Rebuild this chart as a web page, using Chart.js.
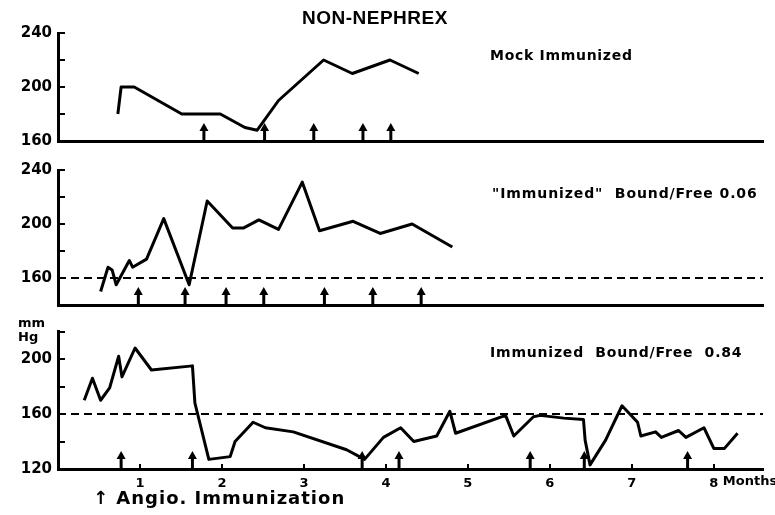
<!DOCTYPE html><html lang="en">
<head>
<meta charset="utf-8"/>
<title>Non-Nephrex</title>
<script src="https://cdn.jsdelivr.net/npm/chart.js"></script>
<style>
  body{margin:0;background:#fff;width:775px;height:515px;overflow:hidden;position:relative}
  canvas{position:absolute;left:0}
  .t{position:absolute;transform:translateY(-50%);font-family:"DejaVu Sans",sans-serif;font-weight:bold;color:#000;white-space:pre}
</style>
</head>
<body>
<canvas id="c1" width="775" height="160" style="top:0"></canvas>
<canvas id="c2" width="775" height="160" style="top:160px"></canvas>
<canvas id="c3" width="775" height="190" style="top:320px"></canvas>

<div class="t" style="left:302px;top:18px;font-family:'Liberation Sans',Arial,sans-serif;font-size:19px;letter-spacing:0.5px">NON-NEPHREX</div>
<div class="t" style="left:490px;top:55px;font-size:14px;letter-spacing:0.7px">Mock Immunized</div>
<div class="t" style="left:492px;top:193px;font-size:14px;letter-spacing:0.9px">"Immunized"  Bound/Free 0.06</div>
<div class="t" style="left:490px;top:352px;font-size:14px;letter-spacing:0.8px">Immunized  Bound/Free  0.84</div>
<div class="t" style="left:18px;top:322px;font-size:13px">mm</div>
<div class="t" style="left:18px;top:336px;font-size:13px">Hg</div>
<div class="t" style="left:93px;top:497px;font-size:18px;letter-spacing:1px">↑ Angio. Immunization</div>

<script>
// ---- data (months, mm Hg) ----
const refX = [0, 8.6];          // extent of the 160 mm Hg reference line
const refY = 160;

const mockX = [0.73,0.77,0.93,1.51,1.98,2.28,2.43,2.69,3.24,3.59,4.05,4.40];
const mockY = [180,200,200,180,180,170,168,190,220,210,220,210];
const mockArrows = [1.78,2.52,3.12,3.72,4.06];

const lowX = [0.52,0.61,0.66,0.71,0.87,0.91,1.08,1.29,1.60,1.82,2.13,2.26,2.45,2.69,2.98,3.19,3.60,3.93,4.32,4.81];
const lowY = [150,168,166,155,173,168,174,204,155,217,197,197,203,196,231,195,202,193,200,183];
const lowArrows = [0.98,1.55,2.05,2.51,3.25,3.84,4.43];

const highX = [0.32,0.42,0.52,0.63,0.74,0.78,0.94,1.14,1.64,1.67,1.84,2.10,2.16,2.38,2.53,2.87,3.52,3.74,3.97,4.18,
               4.34,4.62,4.78,4.85,5.46,5.56,5.80,5.88,6.17,6.41,6.43,6.49,6.68,6.88,7.07,7.11,7.29,7.36,7.57,7.66,
               7.88,8.00,8.13,8.29];
const highY = [170,186,170,179,202,187,208,192,195,168,127,129,140,154,150,147,134,127,143,150,
               140,144,162,146,159,144,158,159,157,156,141,123,141,166,154,144,147,143,148,143,
               150,135,135,146];
const highArrows = [0.77,1.64,3.71,4.16,5.76,6.42,7.68];

const panels = [
  {id:'c1', x:mockX, y:mockY, arrows:mockArrows, min:160, max:240, top:33, xh:19, months:false},
  {id:'c2', x:lowX,  y:lowY,  arrows:lowArrows,  min:140, max:240, top:10, xh:15, months:false},
  {id:'c3', x:highX, y:highY, arrows:highArrows, min:120, max:220, top:11.5, xh:41, months:true}
];

// immunization arrows standing on the x axis + "Months" word after the 8
const arrowPlugin = {
  id:'arrows',
  afterDatasetsDraw(chart, args, opts){
    const ctx = chart.ctx, xs = chart.scales.x, base = chart.chartArea.bottom;
    ctx.save();
    ctx.strokeStyle = '#000'; ctx.fillStyle = '#000'; ctx.lineWidth = 3;
    opts.months.forEach(m => {
      const px = xs.getPixelForValue(m);
      ctx.beginPath(); ctx.moveTo(px, base); ctx.lineTo(px, base - 12); ctx.stroke();
      ctx.beginPath();
      ctx.moveTo(px, base - 18); ctx.lineTo(px - 4.5, base - 10); ctx.lineTo(px + 4.5, base - 10);
      ctx.closePath(); ctx.fill();
    });
    if(opts.label){
      ctx.font = 'bold 13px "DejaVu Sans"';
      ctx.textBaseline = 'middle';
      ctx.fillText('Months', xs.getPixelForValue(8) + 9, base + 13);
    }
    ctx.restore();
  }
};

panels.forEach(p => {
  new Chart(document.getElementById(p.id), {
    type:'line',
    data:{
      datasets:[
        {data:p.x.map((v,i) => ({x:v, y:p.y[i]})), borderColor:'#000', borderWidth:3,
         pointRadius:0, tension:0, borderJoinStyle:'round', clip:false},
        {data:refX.map(v => ({x:v, y:refY})), borderColor:'#000', borderWidth:2,
         borderDash:[8,5], pointRadius:0, clip:false}
      ]
    },
    plugins:[arrowPlugin],
    options:{
      responsive:false, animation:false,
      layout:{padding:{top:p.top, right:12, bottom:0, left:0}},
      plugins:{legend:{display:false}, tooltip:{enabled:false},
               arrows:{months:p.arrows, label:p.months}},
      scales:{
        x:{type:'linear', min:0, max:8.6,
           afterBuildTicks: s => { s.ticks = s.ticks.filter(t => Number.isInteger(t.value)); },
           afterFit: s => { s.height = p.xh; s.paddingLeft = 0; s.paddingRight = 0; },
           border:{color:'#000', width:3},
           grid:{drawOnChartArea:false, drawTicks:p.months, tickLength:-5, color:'#000', lineWidth:2},
           ticks:{display:p.months, stepSize:1, padding:12, color:'#000',
                  font:{family:'DejaVu Sans', size:13, weight:'bold'},
                  callback: v => v === 0 ? '' : v}},
        y:{min:p.min, max:p.max,
           afterFit: s => { s.width = 58; s.paddingTop = 0; s.paddingBottom = 0; },
           border:{color:'#000', width:3},
           grid:{drawOnChartArea:false, tickLength:-7, color:'#000', lineWidth:2},
           ticks:{stepSize:20, padding:13, color:'#000',
                  font:{family:'DejaVu Sans', size:15, weight:'bold'},
                  callback: v => v % 40 === 0 ? v : ''}}
      }
    }
  });
});
</script>
</body>
</html>
